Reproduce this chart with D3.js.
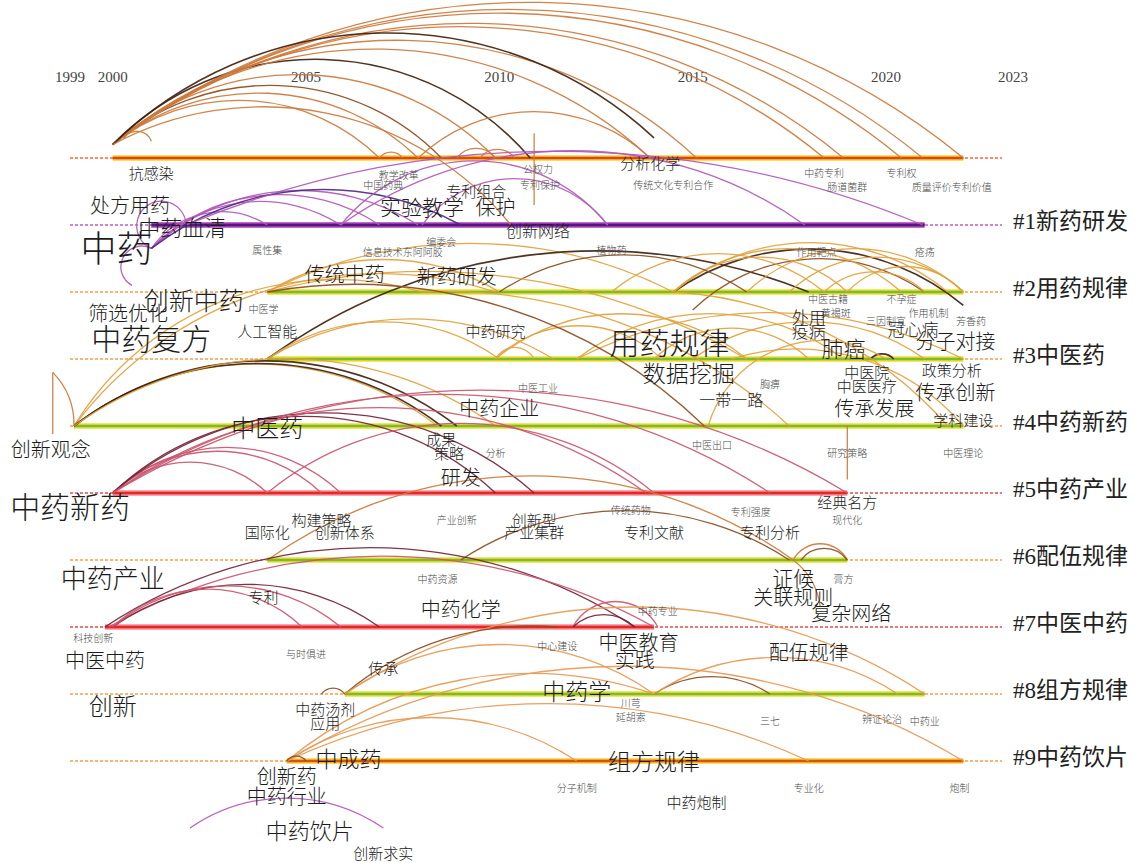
<!DOCTYPE html>
<html lang="zh">
<head>
<meta charset="UTF-8">
<title>关键词时间线图谱</title>
<script src="https://d3js.org/d3.v7.min.js"></script>
<style>
  body { margin: 0; background: #fff; }
  svg { display: block; }
</style>
</head>
<body>
<div id="chart"></div>
<script>
// tick years shown on top
const tickYears = [1999, 2000, 2005, 2010, 2015, 2020, 2023];

// clusters: label, first year, last year
const clusterLabels = ["", "#1新药研发", "#2用药规律", "#3中医药", "#4中药新药", "#5中药产业",
                       "#6配伍规律", "#7中医中药", "#8组方规律", "#9中药饮片"];
const clusterFrom = [2000, 2001, 2004, 2004, 1999, 2000, 2004, 1999.8, 2006, 2004.5];
const clusterTo   = [2022, 2021, 2022, 2022, 2022, 2019, 2019, 2014, 2021, 2022];

// keywords: text, year, lane (cluster row, fractional), frequency
const keywords = [
  ["抗感染", 2001.0, 0.22, 6], ["教学改革", 2007.4, 0.24, 1], ["中国药典", 2007.0, 0.39, 1],
  ["公权力", 2011.0, 0.15, 1], ["专利保护", 2011.05, 0.40, 1], ["分析化学", 2013.9, 0.07, 6],
  ["传统文化专利合作", 2014.5, 0.40, 1], ["中药专利", 2018.4, 0.22, 1], ["专利权", 2020.4, 0.22, 1],
  ["肠道菌群", 2019.0, 0.42, 1], ["质量评价专利价值", 2021.7, 0.42, 1], ["专利组合", 2009.4, 0.48, 6],
  ["处方用药", 2000.45, 0.69, 11], ["实验教学", 2008.0, 0.72, 12], ["保护", 2009.9, 0.72, 11],
  ["中药血清", 2001.8, 1.01, 13], ["中药", 2000.1, 1.31, 27], ["创新网络", 2011.0, 1.07, 7],
  ["属性集", 2004.0, 1.37, 1], ["编委会", 2008.5, 1.24, 1], ["信息技术东阿阿胶", 2007.5, 1.39, 1],
  ["植物药", 2012.9, 1.37, 1], ["作用靶点", 2018.2, 1.39, 1], ["疮疡", 2021.0, 1.40, 1],
  ["传统中药", 2006.0, 1.73, 11], ["新药研发", 2008.9, 1.75, 11], ["创新中药", 2002.1, 2.10, 16],
  ["筛选优化", 2000.4, 2.31, 11], ["中医学", 2003.9, 2.25, 1], ["中药复方", 2001.0, 2.67, 21],
  ["人工智能", 2004.0, 2.58, 6], ["中药研究", 2009.9, 2.58, 6], ["用药规律", 2014.4, 2.73, 21],
  ["中医古籍", 2018.5, 2.10, 1], ["黄褐斑", 2018.7, 2.31, 1], ["不孕症", 2020.4, 2.10, 1],
  ["三因制宜", 2020.0, 2.42, 1], ["作用机制", 2021.1, 2.30, 1], ["芳香药", 2022.2, 2.43, 1],
  ["外用", 2018.0, 2.36, 8], ["疫病", 2018.0, 2.58, 8], ["冠心病", 2020.7, 2.54, 8],
  ["肺癌", 2018.9, 2.82, 13], ["分子对接", 2021.8, 2.72, 11], ["数据挖掘", 2014.9, 3.19, 14],
  ["中医工业", 2011.0, 3.42, 1], ["胸痹", 2017.0, 3.37, 1], ["一带一路", 2016.0, 3.60, 7],
  ["中医院", 2019.5, 3.19, 6], ["政策分析", 2021.7, 3.15, 6], ["中医医疗", 2019.5, 3.39, 6],
  ["传承创新", 2021.8, 3.48, 11], ["传承发展", 2019.7, 3.73, 11], ["学科建设", 2022.0, 3.91, 6],
  ["中药企业", 2010.0, 3.72, 11], ["中医药", 2004.0, 4.0, 15], ["创新观念", 1998.4, 4.34, 11],
  ["成果", 2008.5, 4.18, 6], ["策略", 2008.7, 4.39, 6], ["分析", 2009.9, 4.39, 1],
  ["中医出口", 2015.5, 4.27, 1], ["研究策略", 2019.0, 4.39, 1], ["中医理论", 2022.0, 4.39, 1],
  ["研发", 2009.0, 4.75, 11], ["中药新药", 1998.9, 5.18, 21], ["经典名方", 2019.0, 5.13, 6],
  ["构建策略", 2005.4, 5.39, 6], ["国际化", 2004.0, 5.57, 6], ["创新体系", 2006.0, 5.58, 6],
  ["产业创新", 2008.9, 5.40, 1], ["创新型", 2010.9, 5.39, 6], ["产业集群", 2010.9, 5.58, 6],
  ["传统药物", 2013.4, 5.25, 1], ["专利强度", 2016.5, 5.27, 1], ["现代化", 2019.0, 5.40, 1],
  ["专利文献", 2014.0, 5.58, 6], ["专利分析", 2017.0, 5.57, 6], ["中药产业", 2000.0, 6.24, 17],
  ["证候", 2017.6, 6.25, 12], ["膏方", 2018.9, 6.28, 1], ["关联规则", 2017.6, 6.55, 11],
  ["复杂网络", 2019.1, 6.79, 11], ["中药资源", 2008.4, 6.28, 1], ["专利", 2003.9, 6.55, 6],
  ["中药化学", 2009.0, 6.72, 11], ["中药专业", 2014.1, 6.76, 1], ["科技创新", 1999.5, 7.15, 1],
  ["中心建设", 2011.5, 7.27, 1], ["中医教育", 2013.6, 7.21, 11], ["实践", 2013.5, 7.49, 11],
  ["中医中药", 1999.8, 7.48, 11], ["与时俱进", 2005.0, 7.40, 1], ["传承", 2007.0, 7.60, 6],
  ["配伍规律", 2018.0, 7.36, 11], ["创新", 2000.0, 8.15, 15], ["中药学", 2012.0, 7.94, 14],
  ["中药汤剂", 2005.5, 8.21, 6], ["应用", 2005.5, 8.42, 6], ["川芎", 2013.4, 8.13, 1],
  ["延胡索", 2013.4, 8.33, 1], ["三七", 2017.0, 8.40, 1], ["辨证论治", 2019.9, 8.36, 1],
  ["中药业", 2021.0, 8.40, 1], ["中成药", 2006.1, 8.94, 13], ["组方规律", 2014.0, 8.99, 14],
  ["创新药", 2004.5, 9.21, 11], ["中药行业", 2004.5, 9.51, 11], ["分子机制", 2012.0, 9.40, 1],
  ["专业化", 2018.0, 9.40, 1], ["炮制", 2021.9, 9.40, 1], ["中药炮制", 2015.1, 9.60, 6],
  ["中药饮片", 2005.1, 10.01, 13], ["创新求实", 2007.0, 10.37, 6]
];

// co-occurrence links: from year, from lane, to year, to lane, tone, bend
const links = [
  // cluster 0
  [2000, -0.2, 2006.9, 0, "or", 0.19], [2000, -0.2, 2007.9, 0, "or", 0.19],
  [2000, -0.2, 2008.5, 0, "br", 0.2], [2000, -0.2, 2009.9, 0, "or", 0.2],
  [2000, -0.2, 2010.8, 0, "dk", 0.22], [2000, -0.2, 2013.9, 0, "or", 0.19],
  [2000, -0.2, 2015.1, 0, "or", 0.19], [2000, -0.2, 2018.4, 0, "or", 0.175],
  [2000, -0.2, 2018.9, 0, "or", 0.175], [2000, -0.2, 2020.4, 0, "or", 0.175],
  [2000, -0.2, 2020.95, 0, "or", 0.175], [2000, -0.2, 2022.0, 0, "or", 0.175],
  [2000, -0.2, 2014.0, -0.3, "dk", 0.2], [2000, -0.2, 2010.3, 1, "or", 0.18],
  [2000.3, -0.3, 2001.0, -0.25, "or", 0.3], [2007.9, 0, 2013.9, 0, "or", 0.2],
  [2006.9, 0, 2007.5, 0, "or", 0.25], [2008.9, 0, 2009.9, 0, "or", 0.25],
  [2009.5, 0, 2010.4, 0, "or", 0.25], [2010.9, -0.37, 2010.9, 0.7, "or", 0],
  // cluster 1
  [2001.0, 1.35, 2001.9, 1, "pu", 0.9], [2000.5, 1.9, 2001.0, 1.35, "pu", 0.5],
  [2001.0, 1.35, 2004.0, 1, "pu", 0.2], [2001.0, 1.35, 2005.9, 1, "pu", 0.18],
  [2001.0, 1.35, 2006.9, 1, "pu", 0.18], [2001.0, 1.35, 2007.9, 1, "pu", 0.17],
  [2001.0, 1.35, 2009.0, 1, "dp", 0.15], [2001.9, 1, 2020.95, 1, "pu", 0.1],
  [2005.9, 1, 2012.8, 1, "pu", 0.24], [2008.0, 1, 2012.8, 1, "pu", 0.25],
  [2005.9, 1, 2017.9, 1, "pu", 0.16],
  // cluster 2
  [2004, 2, 2010.0, 2, "gd", 0.14], [2004, 2, 2014.5, 2, "gd", 0.12],
  [2004, 3, 2018.0, 2, "dk", 0.13], [2014.5, 2, 2022, 2.2, "dk", 0.17],
  [2015.0, 2.27, 2021.0, 2, "br", 0.18], [2014.5, 2, 2019.0, 2, "gd", 0.2],
  [2014.5, 2, 2020.4, 2, "gd", 0.19], [2014.5, 2, 2021.6, 2, "gd", 0.18],
  [2016.4, 2, 2022, 2, "gd", 0.2], [2017.5, 2, 2022, 2, "gd", 0.2],
  [2018.4, 2, 2021.0, 2, "gd", 0.2], [2019.0, 2, 2022, 2, "gd", 0.22],
  [2010.0, 2, 2016.4, 2, "br", 0.15], [1999, 4, 2008.0, 2, "gd", 0.17],
  [1999, 4, 2009.9, 2, "gd", 0.16], [2012.9, 2, 2018.4, 2, "gd", 0.18],
  // cluster 3
  [2004, 3, 2010.0, 3, "gd", 0.16], [2004, 3, 2011.4, 3, "gd", 0.14],
  [2009.9, 3, 2010.9, 3, "gd", 0.3], [2009.9, 3, 2014.2, 3, "gd", 0.2],
  [2009.9, 3, 2016.4, 3, "gd", 0.18], [2012.0, 3, 2018.9, 3, "gd", 0.17],
  [2014.0, 3, 2018.0, 3, "gd", 0.2], [2015.0, 3, 2021.0, 3, "gd", 0.16],
  [2012.0, 3, 2022, 3, "gd", 0.12], [2019.6, 3, 2020.2, 3, "dk", 0.22],
  [2004, 2, 2016.4, 3, "gd", 0.1], [2008.0, 2, 2017.5, 4, "gd", 0.1],
  [2004, 2, 2015.3, 4, "br", 0.12], [2014.5, 2, 2021.6, 4, "gd", 0.1],
  [2016.0, 3, 2022, 4, "gd", 0.15], [2015.4, 4, 2020.0, 3, "gd", 0.25],
  [2019.0, 4, 2019.0, 4.8, "or", 0],
  // cluster 4
  [1999, 4, 2008.4, 4, "gd", 0.17], [1999, 4, 2008.5, 4, "dk", 0.17],
  [1999, 4, 2008.9, 4, "dk", 0.17], [1999, 4, 2009.9, 4, "gd", 0.16],
  [1998.45, 4.12, 1998.45, 3.2, "or", 0], [1998.45, 3.2, 1999, 4, "or", 0.1],
  // cluster 5
  [2000, 5, 2004.0, 5, "rs", 0.2], [2000, 5, 2005.4, 5, "rs", 0.2],
  [2000, 5, 2005.9, 5, "rs", 0.2], [2000, 5, 2009.9, 5, "mr", 0.2],
  [2000, 5, 2010.9, 5, "mr", 0.19], [2000, 5, 2013.8, 5, "rs", 0.16],
  [2000, 5, 2017.0, 5, "rs", 0.15], [2000, 5, 2019.0, 5, "rs", 0.14],
  [2004.0, 5, 2014.0, 5, "rs", 0.18],
  // cluster 6
  [2004, 6, 2017.6, 6, "or", 0.16], [2009, 6, 2017.5, 6, "br", 0.15],
  [2017.6, 6, 2019.0, 6, "or", 0.3], [2017.8, 6, 2019.0, 6, "br", 0.25],
  [2017.6, 6, 2018.3, 6.7, "or", 0.1],
  // cluster 7
  [1999.8, 7, 2013.5, 7, "mr", 0.15], [1999.9, 7, 2014.0, 7, "rs", 0.13],
  [2000, 7, 2006.9, 7, "mr", 0.16], [2000, 7, 2004.9, 7, "rs", 0.2],
  [2000, 7, 2005.9, 7, "rs", 0.18], [2011.9, 7, 2014.1, 7, "rs", 0.3],
  [2011.9, 7, 2013.5, 7, "mr", 0.2],
  // cluster 8
  [2006, 8, 2021, 8, "lo", 0.15], [2006, 8, 2011.5, 7, "br", 0.1],
  [2006, 8, 2014.0, 8, "lo", 0.16], [2014, 8, 2017.0, 8, "br", 0.15],
  [2014, 8, 2020.3, 8, "lo", 0.15], [2005.4, 8, 2006, 8, "br", 0.25],
  [2004.5, 9, 2014.0, 8, "lo", 0.13],
  // cluster 9
  [2004.5, 9, 2022, 9, "lo", 0.14], [2004.5, 9, 2018, 9, "lo", 0.11],
  [2004.5, 9, 2012, 9, "lo", 0.15], [2004.5, 9, 2005.0, 9, "br", 0.25],
  [2002.0, 10.0, 2007.0, 10.0, "pu", 0.155]
];

const width = 1135, height = 863;
const svg = d3.select("#chart").append("svg")
    .attr("width", width)
    .attr("height", height);

const x = d3.scaleLinear().domain([1999, 2023]).range([74, 1002]);
const y = d3.scaleLinear().domain([0, 9]).range([158, 761]);
const fontSize = d3.scaleLinear().domain([1, 27]).range([10, 36]);

const tone = {
  or: "#cc7a3c", dk: "#3f2210", br: "#8a4c20", gd: "#e0a23e", pu: "#b258b8",
  dp: "#4b2a86", rs: "#c9566e", mr: "#74243a", lo: "#e59a55"
};
const rowEdge = ["#f6d22e", "#cc66cc", "#efe22a", "#efe22a", "#efe22a", "#f39090", "#efe22a", "#f39090", "#efe22a", "#f6d22e"];
const rowCore = ["#d9451c", "#4f1a80", "#7db83a", "#7db83a", "#7db83a", "#e8242c", "#7db83a", "#e8242c", "#7db83a", "#d8501c"];
const rowDash = ["#f26a3a", "#c35bc3", "#f5a04a", "#f5a04a", "#f5a04a", "#f04a4a", "#f5a04a", "#f04a4a", "#f5a04a", "#f5a04a"];

// year ticks
svg.append("g").selectAll("text")
    .data(tickYears)
    .join("text")
    .attr("x", (d, i) => x(d) + (i === 0 ? -4 : i === tickYears.length - 1 ? 11 : 0))
    .attr("y", 77)
    .attr("text-anchor", "middle")
    .attr("dominant-baseline", "central")
    .style("font-family", "'Liberation Serif', serif")
    .style("font-size", "15px")
    .style("fill", "#444")
    .text(d => d);

// cluster lines
const rows = d3.range(clusterLabels.length);
const lineG = svg.append("g");
lineG.selectAll("line.dash")
    .data(rows)
    .join("line")
    .attr("class", "dash")
    .attr("x1", x(1999) - 4).attr("x2", x(2023))
    .attr("y1", d => y(d)).attr("y2", d => y(d))
    .attr("stroke", d => rowDash[d])
    .attr("stroke-width", 1.5)
    .attr("stroke-dasharray", "3,2");
lineG.selectAll("line.edge")
    .data(rows)
    .join("line")
    .attr("class", "edge")
    .attr("x1", d => x(clusterFrom[d])).attr("x2", d => x(clusterTo[d]))
    .attr("y1", d => y(d)).attr("y2", d => y(d))
    .attr("stroke", d => rowEdge[d])
    .attr("stroke-width", d => d === 1 ? 6 : 5.5);
lineG.selectAll("line.core")
    .data(rows)
    .join("line")
    .attr("class", "core")
    .attr("x1", d => x(clusterFrom[d])).attr("x2", d => x(clusterTo[d]))
    .attr("y1", d => y(d)).attr("y2", d => y(d))
    .attr("stroke", d => rowCore[d])
    .attr("stroke-width", d => d === 1 ? 3.2 : 2.6);

// arcs
function arcPath(l) {
  let x1 = x(l[0]), y1 = y(l[1]), x2 = x(l[2]), y2 = y(l[3]);
  if (x1 > x2) { [x1, x2] = [x2, x1]; [y1, y2] = [y2, y1]; }
  if (!l[5]) return `M${x1},${y1}L${x2},${y2}`;
  const c = Math.hypot(x2 - x1, y2 - y1);
  const h = l[5] * c;
  const r = (c * c / 4 + h * h) / (2 * h);
  const large = h > c / 2 ? 1 : 0;
  return `M${x1},${y1}A${r},${r} 0 ${large} 1 ${x2},${y2}`;
}

svg.append("g").selectAll("path")
    .data(links)
    .join("path")
    .attr("d", arcPath)
    .attr("fill", "none")
    .attr("stroke", d => tone[d[4]])
    .attr("stroke-width", d => d[4] === "dk" || d[4] === "dp" ? 1.6 : 1.3)
    .attr("stroke-opacity", 0.92);

// keyword labels
svg.append("g").selectAll("text")
    .data(keywords)
    .join("text")
    .attr("x", d => x(d[1]))
    .attr("y", d => y(d[2]))
    .attr("text-anchor", "middle")
    .attr("dominant-baseline", "central")
    .style("font-family", "'Noto Sans CJK SC', sans-serif")
    .style("font-weight", 300)
    .style("font-size", d => fontSize(d[3]) + "px")
    .style("fill", d => d[3] < 2 ? "#4a4a4a" : "#1c1c1c")
    .text(d => d[0]);

// cluster names on the right
svg.append("g").selectAll("text")
    .data(rows.filter(d => clusterLabels[d]))
    .join("text")
    .attr("x", 1013)
    .attr("y", d => y(d) - 4)
    .attr("dominant-baseline", "central")
    .style("font-family", "'Liberation Serif', 'Noto Sans CJK SC', serif")
    .style("font-size", "23px")
    .style("fill", "#222")
    .text(d => clusterLabels[d]);
</script>
</body>
</html>
